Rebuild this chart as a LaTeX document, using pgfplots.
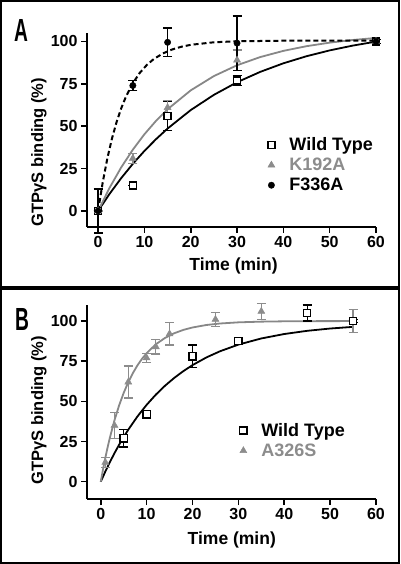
\documentclass[border=0pt]{standalone}
\usepackage{graphicx}
\usepackage{pgfplots}
\pgfplotsset{compat=1.18}
\usepackage{fontspec}
\setmainfont{Liberation Sans}
\definecolor{mygray}{RGB}{140,140,140}
\definecolor{curvegray}{RGB}{135,135,135}

\pgfplotsset{
  panel/.style={
    scale only axis, width=289pt, height=194pt,
    axis lines=left, axis line style={-, line width=1.8pt},
    tick align=outside, major tick length=6pt,
    major tick style={line width=1.6pt, black},
    minor tick num=0,
    xtick={0,10,...,60}, ytick={0,25,50,75,100},
    tick label style={font=\bfseries\fontsize{16}{16}\selectfont},
    /pgf/number format/assume math mode=true,
    xlabel={Time (min)},
    ylabel={GTPγS binding (\%)},
    xlabel style={font=\bfseries\fontsize{17.5}{17.5}\selectfont, anchor=base},
    ylabel style={font=\bfseries\fontsize{16.5}{16.5}\selectfont, anchor=base west},
    clip=false,
    legend style={draw=none, fill=none, font=\bfseries\fontsize{18}{18}\selectfont,
      inner sep=0pt, anchor=north east, row sep=6pt,
      nodes={inner sep=0pt}},
    legend cell align=left,
  },
  limg/.style={legend image code/.code={%
    \draw[mark repeat=2,mark phase=2] plot coordinates {(-6pt,0pt)(0pt,0pt)(6pt,0pt)};
    \path[draw=none,fill=none] (-6pt,0pt) -- (18pt,0pt);}},
  wt/.style={only marks, mark=square*, mark size=3.6pt, limg,
    mark options={fill=white, draw=black, line width=1.4pt},
    error bars/.cd, y dir=both, y explicit,
    error bar style={line width=1.3pt, black},
    error mark options={rotate=90, mark size=4.5pt, line width=1.3pt, black},
    /pgfplots/.cd},
  gr/.style={only marks, mark=triangle*, mark size=4pt, limg,
    mark options={fill=mygray, draw=mygray, line width=0.5pt},
    error bars/.cd, y dir=both, y explicit,
    error bar style={line width=1.3pt, mygray},
    error mark options={rotate=90, mark size=4.5pt, line width=1.3pt, mygray},
    /pgfplots/.cd},
  ci/.style={only marks, mark=*, mark size=3.2pt, limg,
    mark options={fill=black, draw=black},
    error bars/.cd, y dir=both, y explicit,
    error bar style={line width=1.3pt, black},
    error mark options={rotate=90, mark size=4.5pt, line width=1.3pt, black},
    /pgfplots/.cd},
}

\begin{document}
\begin{tikzpicture}
\useasboundingbox (0,0) rectangle (400pt,564pt);
% frames
\draw[line width=2pt] (1pt,276.5pt) rectangle (399pt,563pt);
\draw[line width=2pt] (1pt,1pt) rectangle (399pt,274.5pt);
\node at (21pt,533.5pt) {\scalebox{0.6}[1]{\fontsize{32}{32}\selectfont\bfseries A}};
\node at (22pt,245pt) {\scalebox{0.6}[1]{\fontsize{32}{32}\selectfont\bfseries B}};

% Panel A
\begin{axis}[panel, at={(87pt,337pt)}, anchor=south west,
  xmin=-2.4, xmax=60, ymin=-9.5, ymax=105,
  xlabel style={at={(axis description cs:0.507,-0.2268)}},
  ylabel style={at={(axis description cs:-0.152,-0.015)}},
  legend style={at={(axis description cs:0.99,0.462)}}]
\addplot[black, line width=1.8pt, forget plot] coordinates {
(0,0) (2.5,10.16) (5,19.40) (7.5,27.78) (10,35.40) (12.5,42.32) (15,48.61)
(20,59.51) (25,68.50) (30,75.93) (35,82.05) (40,87.11) (45,91.29) (50,94.73)
(55,97.57) (60,99.91)};
\addplot[curvegray, line width=1.8pt, forget plot] coordinates {
(0,0) (2.5,13.77) (5,25.75) (7.5,36.17) (10,45.24) (12.5,53.13) (15,59.99)
(20,71.14) (25,79.58) (30,85.96) (35,90.79) (40,94.45) (45,97.21) (50,99.30)
(55,100.88) (60,102.08)};
\addplot[black, line width=2pt, dash pattern=on 5pt off 3pt, forget plot] coordinates {
(0,0) (1,16.97) (2,31.08) (3,42.80) (4,52.55) (5,60.65) (6,67.38) (7.5,75.40)
(9,81.48) (10.5,86.10) (12,89.59) (14,92.96) (16,95.29) (18,96.90) (20,98.02)
(25,99.52) (30,100.11) (40,100.44) (50,100.49) (60,100.5)};
\addplot[wt] coordinates {
(0,0) +- (0,0)
(7.5,15) +- (0,0)
(15,56) +- (0,8.5)
(30,77) +- (0,3)
(60,100) +- (0,1)};
\addlegendentry{Wild Type}
\addplot[gr] coordinates {
(0,0) +- (0,0)
(7.5,31) +- (0,3)
(15,61) +- (0,4)
(30,89) +- (0,6)
(60,100) +- (0,1)};
\addlegendentry{\textcolor{mygray}{K192A}}
\addplot[ci] coordinates {
(0,0) +- (0,13)
(7.5,74) +- (0,3)
(15,99.5) +- (0,8.5)
(30,99) +- (0,16)
(60,100) +- (0,1)};
\addlegendentry{F336A}
\end{axis}

% Panel B
\begin{axis}[panel, at={(87pt,65pt)}, anchor=south west,
  xmin=-3, xmax=60, ymin=-10.8, ymax=110,
  xlabel style={at={(axis description cs:0.501,-0.232)}},
  ylabel style={at={(axis description cs:-0.152,0.057)}},
  legend style={at={(axis description cs:0.893,0.392)}}]
\addplot[black, line width=1.8pt, forget plot] coordinates {
(0,0) (1,6.33) (2,12.25) (3,17.79) (4,22.98) (5,27.83) (6,32.37) (8,40.61)
(10,47.83) (12,54.16) (14,59.71) (16,64.56) (18,68.82) (20,72.56) (23,77.31)
(26,81.20) (30,85.33) (35,89.17) (40,91.93) (45,93.92) (50,95.35) (55,96.38)};
\addplot[curvegray, line width=1.8pt, forget plot] coordinates {
(0,0) (0.5,7.73) (1,14.87) (1.5,21.45) (2,27.53) (3,38.31) (4,47.48) (5,55.29)
(6,61.94) (7,67.60) (8,72.42) (9,76.52) (10,80.01) (12,85.51) (14,89.50)
(16,92.39) (18,94.49) (20,96.00) (23,97.54) (26,98.48) (30,99.20) (35,99.64)
(40,99.84) (45,99.93) (55,99.99)};
\addplot[forget plot, gr] coordinates {
(1,12) +- (0,3)
(3,35) +- (0,8)
(6,62) +- (0,10)
(10,77) +- (0,3)
(12,84) +- (0,4.5)
(15,92) +- (0,7)
(25,101) +- (0,4.5)
(35,106) +- (0,5)
(55,100) +- (0,7.3)};
\addplot[wt] coordinates {
(5,27) +- (0,5.5)
(10,42) +- (0,2.5)
(20,78) +- (0,7)
(30,87.5) +- (0,1)
(45,105) +- (0,5)
(55,100) +- (0,1)};
\addlegendentry{Wild Type}
\addlegendimage{gr}
\addlegendentry{\textcolor{mygray}{A326S}}
\end{axis}
\end{tikzpicture}
\end{document}
